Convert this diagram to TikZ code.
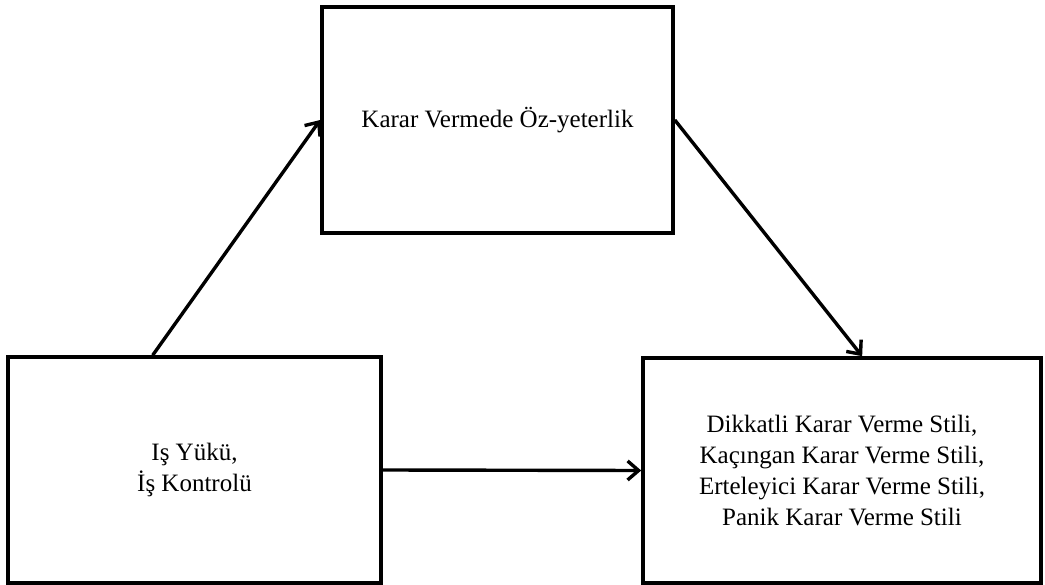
\documentclass[tikz,border=0pt]{standalone}
\usepackage{fontspec}
\setmainfont{Liberation Serif}
\usetikzlibrary{arrows.meta,positioning}

\begin{document}
\begin{tikzpicture}[x=1pt, y=1pt, font=\fontsize{25}{31}\selectfont,
    kutu/.style={draw, line width=3.6pt, align=center, inner sep=0pt},
    ok/.style={line width=3.4pt, -{Straight Barb[length=11pt,width=19pt,line width=3.4pt]}}]
    \useasboundingbox (0,0) rectangle (1045,-585);
    % kutular
    \node[kutu, minimum width=351, minimum height=226] (oz) at (497.5,-120) {Karar Vermede Öz-yeterlik};
    \node[kutu, minimum width=373, minimum height=226] (is) at (194.5,-470) {Iş Yükü,\\ İş Kontrolü};
    \node[kutu, minimum width=398, minimum height=225] (stil) at (842,-470.5)
      {Dikkatli Karar Verme Stili,\\ Kaçıngan Karar Verme Stili,\\ Erteleyici Karar Verme Stili,\\ Panik Karar Verme Stili};

    % oklar
    \draw[ok] (is.110.6) -- (oz.west);
    \draw[ok] (oz.east) -- (stil.80);
    \draw[ok] (is.east) -- (stil.west);
  \end{tikzpicture}
\end{document}
